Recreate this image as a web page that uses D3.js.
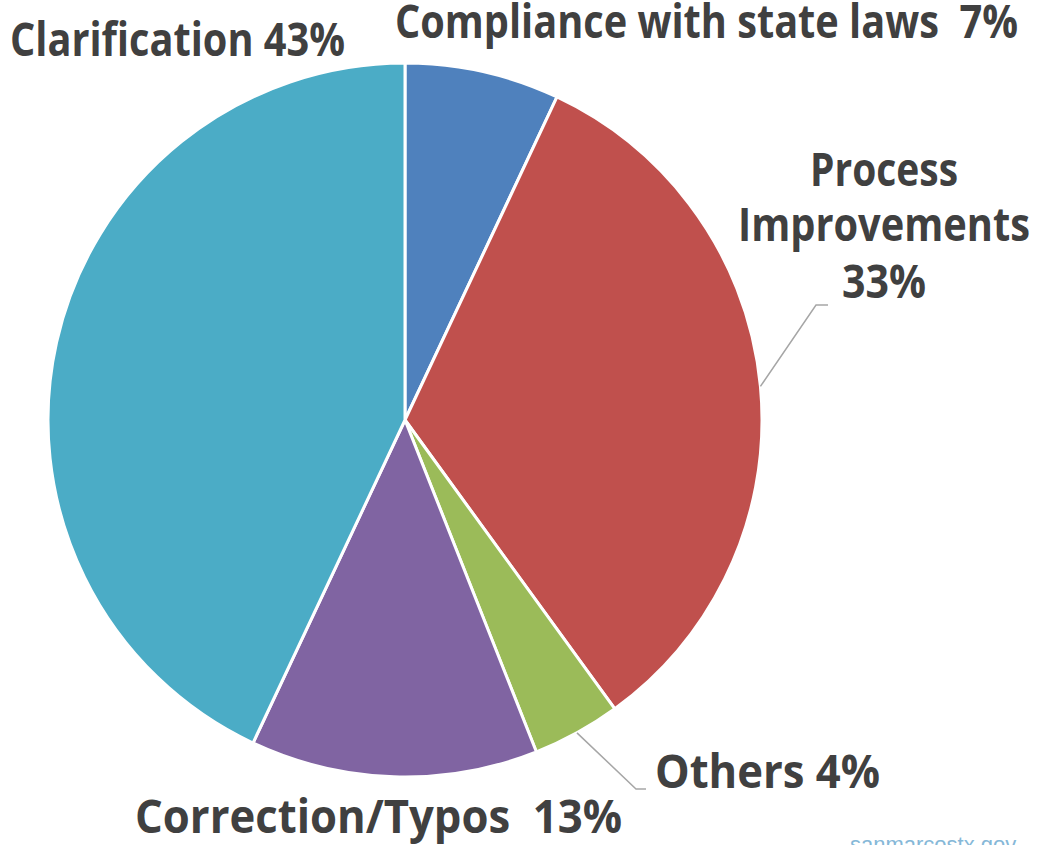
<!DOCTYPE html>
<html>
<head>
  <meta charset="utf-8">
  <title>Comment categories</title>
  <script src="https://d3js.org/d3.v7.min.js"></script>
  <style>
    body { margin: 0; background: #fff; }
    .label {
      font-family: "Open Sans", "Noto Sans", sans-serif;
      font-weight: bold;
      fill: #404040;
    }
    .leader { fill: none; stroke: #a6a6a6; stroke-width: 1.5px; }
    .source {
      font-family: "Liberation Sans", Arial, sans-serif;
      fill: #86b8d8;
      font-size: 22px;
    }
  </style>
</head>
<body>
  <svg width="1047" height="845"></svg>
  <script>
    // slices, clockwise from 12 o'clock
    const categories = ["Compliance with state laws", "Process Improvements", "Others", "Correction/Typos", "Clarification"];
    const values = [7, 33, 4, 13, 43];
    const colors = ["#4f81bd", "#c0504d", "#9bbb59", "#8064a2", "#4bacc6"];

    const svg = d3.select("svg");
    const cx = 405, cy = 420, radius = 357;

    const slices = categories.map((c, i) => ({ name: c, value: values[i], color: colors[i] }));
    const pie = d3.pie().sort(null).value(d => d.value);
    const arc = d3.arc().innerRadius(0).outerRadius(radius);
    const arcs = pie(slices);

    const g = svg.append("g").attr("transform", `translate(${cx},${cy})`);

    g.selectAll("path.slice")
      .data(arcs)
      .enter().append("path")
      .attr("class", "slice")
      .attr("d", arc)
      .attr("fill", d => d.data.color)
      .attr("stroke", "#fff")
      .attr("stroke-width", 3)
      .attr("stroke-linejoin", "round");

    // label placement (lines of text, x = center or start, baseline y, width)
    const labelLayout = {
      "Compliance with state laws": { anchor: "start", lines: [[395, 38, 623, "Compliance with state laws  7%"]] },
      "Process Improvements": { anchor: "middle", lines: [[884, 186, 148, "Process"], [884, 241, 292, "Improvements"], [884, 298, 84, "33%"]],
                                leader: [[816, 305], [828, 305]] },
      "Others": { anchor: "start", lines: [[655, 788, 225, "Others 4%"]], leader: [[636, 789], [646, 789]] },
      "Correction/Typos": { anchor: "start", lines: [[135, 833, 487, "Correction/Typos  13%"]] },
      "Clarification": { anchor: "start", lines: [[10, 56, 335, "Clarification 43%"]] }
    };

    arcs.forEach(a => {
      const lay = labelLayout[a.data.name];
      if (lay.leader) {
        const mid = (a.startAngle + a.endAngle) / 2;
        const p0 = d3.pointRadial(mid, radius);
        const pts = [[cx + p0[0], cy + p0[1]]].concat(lay.leader);
        svg.append("path")
          .attr("class", "leader")
          .attr("d", d3.line()(pts));
      }
      lay.lines.forEach(([x, y, w, txt]) => {
        svg.append("text")
          .attr("class", "label")
          .attr("x", x)
          .attr("y", y)
          .attr("text-anchor", lay.anchor)
          .attr("font-size", 47)
          .attr("textLength", w)
          .attr("lengthAdjust", "spacingAndGlyphs")
          .style("white-space", "pre")
          .text(txt);
      });
    });

    svg.append("text")
      .attr("class", "source")
      .attr("x", 850)
      .attr("y", 852)
      .text("sanmarcostx.gov");
  </script>
</body>
</html>
